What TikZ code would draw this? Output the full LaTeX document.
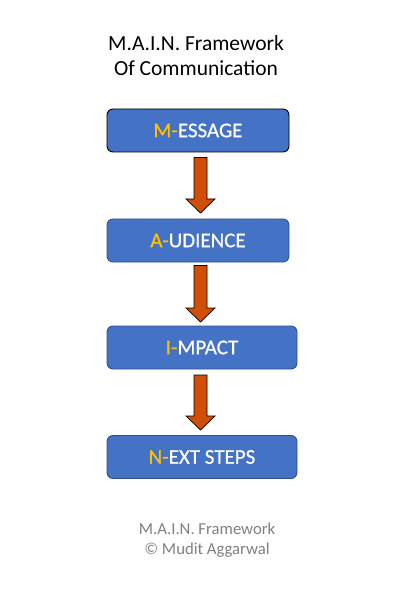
\documentclass[tikz,border=0pt]{standalone}
\usepackage{fontspec}
\setmainfont{Carlito}
\newfontfamily\boxfont{Carlito}[FakeBold=0.6]
\usetikzlibrary{calc}
\definecolor{boxblue}{HTML}{4472C4}
\definecolor{boxedge}{HTML}{2F528F}
\definecolor{gold}{HTML}{FFC000}
\definecolor{arroworange}{HTML}{D04E05}
\definecolor{footgray}{HTML}{808080}
\tikzset{
  stagebox/.style={draw=boxedge, line width=0.9pt, fill=boxblue, rounded corners=6pt,
    minimum height=43pt, text=white, inner sep=0pt,
    font=\boxfont\fontsize{21}{25}\selectfont},
  blockarrow/.style={draw=black, line width=0.7pt, fill=arroworange, line join=miter},
}
% \downblock{x}{top y}{tip y}
\newcommand\downblock[3]{%
  \draw[blockarrow] (#1-6.5,#2) -- (#1+6.5,#2) -- (#1+6.5,#3-14) -- (#1+14.5,#3-14)
    -- (#1,#3) -- (#1-14.5,#3-14) -- (#1-6.5,#3-14) -- cycle;}
\begin{document}
\begin{tikzpicture}[x=1pt,y=-1pt]
\useasboundingbox (0,0) rectangle (409,601);
\node[align=center, font=\fontsize{21.5}{25}\selectfont] (title) at (196,56)
  {M.A.I.N. Framework\\Of Communication};
\node[stagebox, draw=black, minimum width=182pt] (m) at (198,130.5) {\textcolor{gold}{M-}ESSAGE};
\node[stagebox, minimum width=182pt] (a) at (198,240.5) {\textcolor{gold}{A-}UDIENCE};
\node[stagebox, minimum width=190pt] (i) at (202,347.5) {\textcolor{gold}{I-}MPACT};
\node[stagebox, minimum width=190pt] (n) at (202,457) {\textcolor{gold}{N-}EXT STEPS};
\downblock{200.5}{157.5}{213}
\downblock{200.5}{265.5}{322}
\downblock{200.5}{375}{430}
\node[align=center, text=footgray, font=\fontsize{16.7}{20}\selectfont] (foot) at (207,540)
  {M.A.I.N. Framework\\© Mudit Aggarwal};
\end{tikzpicture}
\end{document}
